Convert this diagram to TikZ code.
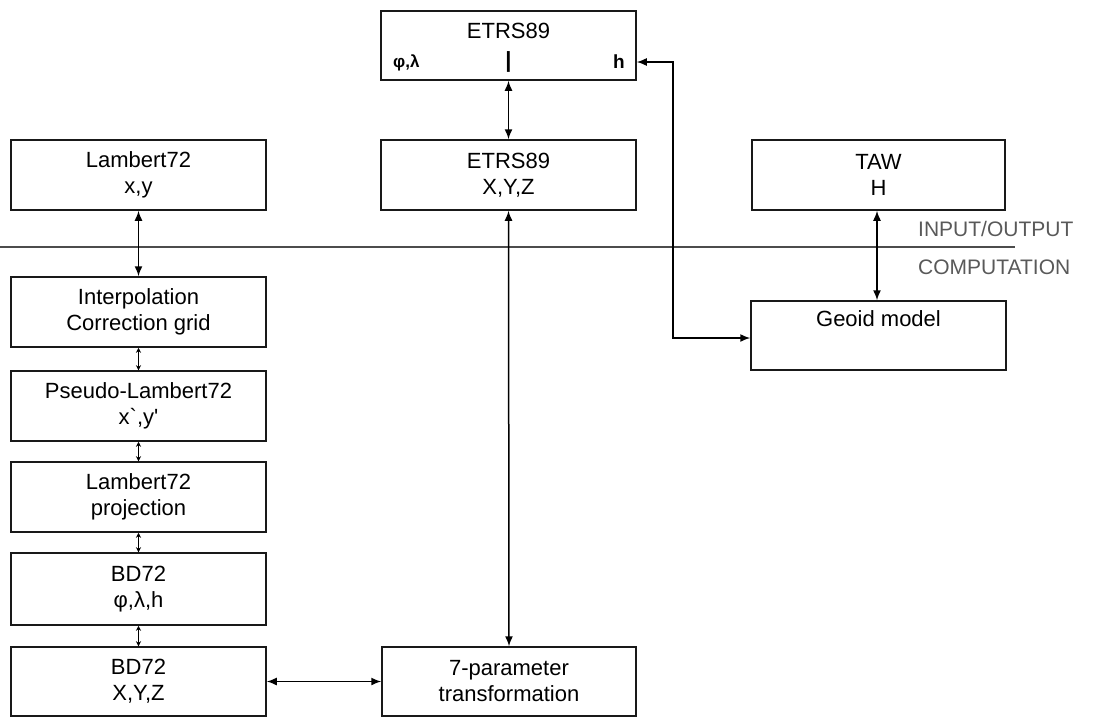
\documentclass[tikz,border=0pt]{standalone}
\usepackage{fontspec}
\setmainfont{Liberation Sans}
\newfontfamily\rawfont{Liberation Sans}
\usetikzlibrary{arrows.meta}
\begin{document}
\begin{tikzpicture}[x=1pt,y=-1pt,
  box/.style={draw=black!90,line width=1.5pt,minimum width=255pt,minimum height=70pt,inner sep=0pt,align=center,font=\fontsize{22}{26}\selectfont},
  con/.style={line width=1.5pt,{Latex[length=10pt,width=8pt]}-{Latex[length=10pt,width=8pt]}},
  small/.style={line width=1.1pt,{Stealth[length=5pt,width=5pt]}-{Stealth[length=5pt,width=5pt]}},
  sep/.style={draw=black!70,line width=1.3pt},
  lab/.style={text=black!65,font=\fontsize{21}{24}\selectfont,anchor=west,inner sep=0pt}]
\useasboundingbox (0,0) rectangle (1093,716);
\begin{scope}
\clip (0,0) rectangle (1093,716);
\node[box,minimum height=69pt] (etrsTop) at (508.5,45.5) {};
\node[font=\fontsize{22}{26}\selectfont,inner sep=0pt] (etrsTopT) at (508.5,31) {ETRS89};
\node[font=\bfseries\fontsize{17}{20}\selectfont,inner sep=0pt,anchor=west] (phil) at (393,63) {φ,λ};
\node[font=\bfseries\fontsize{22}{24}\selectfont,inner sep=0pt] (bar) at (508.5,62) {|};
\node[font=\bfseries\fontsize{19}{20}\selectfont,inner sep=0pt,anchor=east] (hh) at (625,62) {h};
\node[box] (lam) at (138.5,175) {Lambert72\\x,y};
\node[box] (etrsXYZ) at (508.5,175) {ETRS89\\X,Y,Z};
\node[box,minimum width=253pt] (taw) at (878.5,175) {TAW\\H};
\node[box] (interp) at (138.5,312) {Interpolation\\Correction grid};
\node[box] (pseudo) at (138.5,406) {Pseudo-Lambert72\\{\rawfont x`,y'}};
\node[box] (proj) at (138.5,497) {Lambert72\\projection};
\node[box,minimum height=72pt] (bdgeo) at (138.5,589) {BD72\\φ,λ,h};
\node[box,minimum height=69pt] (bdxyz) at (138.5,681.5) {BD72\\X,Y,Z};
\node[box,minimum width=254pt,minimum height=69pt] (seven) at (509,681.5) {7-parameter\\transformation};
\node[box,minimum height=69pt] (geoid) at (878.5,335.5) {Geoid model\\\strut};
\end{scope}
\draw[sep] (0,247) coordinate (sepL) -- (1015,247) coordinate (sepR);
\node[lab] (io) at (918,228.5) {INPUT/OUTPUT};
\node[lab] (comp) at (918,267) {COMPUTATION};
\coordinate (hcorner) at (673,62);
\coordinate (gcorner) at (673,338);
\draw[con] (etrsTop.south) -- (etrsXYZ.north);
\draw[con] (etrsXYZ.south) -- (seven.north);
\draw[con] (lam.south) -- (interp.north);
\draw[con] (taw.south -| 877,0) -- (geoid.north -| 877,0);
\draw[con] (bdxyz.east) -- (seven.west);
\draw[con] (etrsTop.east |- hcorner) -- (hcorner) -- (gcorner) -- (geoid.west |- gcorner);
\draw[small] (interp.south) -- (pseudo.north);
\draw[small] (pseudo.south) -- (proj.north);
\draw[small] (proj.south) -- (bdgeo.north);
\draw[small] (bdgeo.south) -- (bdxyz.north);
\end{tikzpicture}
\end{document}
